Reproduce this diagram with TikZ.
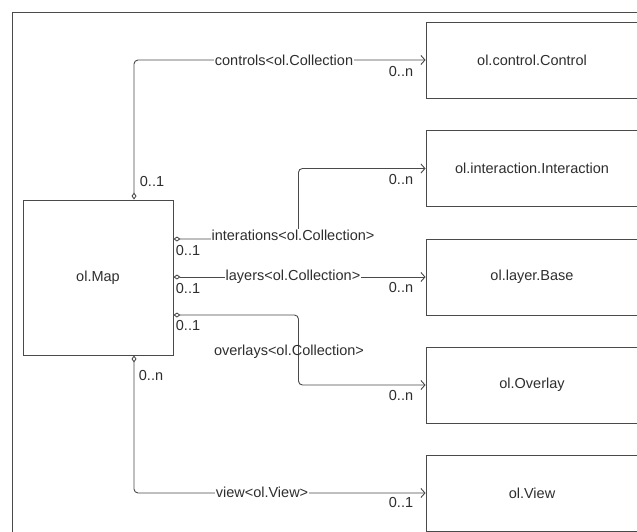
\documentclass[tikz,border=0pt]{standalone}
\usepackage{fontspec}
\setmainfont{Liberation Sans}
\usetikzlibrary{arrows.meta}
\definecolor{ln}{HTML}{4A4A4A}
\definecolor{tx}{HTML}{2E2E2E}
\tikzset{
  cls/.style={draw=ln, line width=0.9pt, minimum width=212pt, minimum height=76pt, text=tx, font=\fontsize{14.5}{17}\selectfont, inner sep=0pt},
  assoc/.style={draw=ln, line width=0.9pt, rounded corners=4pt, {Diamond[open,fill=white,length=7pt,width=5pt]}-{Straight Barb[length=4pt,width=9pt]}},
  lbl/.style={text=tx, font=\fontsize{14.5}{17}\selectfont, inner sep=1pt},
  card/.style={text=tx, font=\fontsize{14.5}{17}\selectfont, inner sep=0pt}
}
\begin{document}
\begin{tikzpicture}[x=1pt,y=-1pt]
\useasboundingbox (0,0) rectangle (637,532);
\clip (0,0) rectangle (637,532);
\draw[ln, line width=0.9pt] (12,545) -- (12,12) -- (650,12);

\node[cls, minimum width=150pt, minimum height=155pt] (map) at (98,277.5) {ol.Map};
\node[cls] (ctrl) at (532,60) {ol.control.Control};
\node[cls] (inter) at (532,168.5) {ol.interaction.Interaction};
\node[cls] (layer) at (532,277) {ol.layer.Base};
\node[cls] (ovl) at (532,385) {ol.Overlay};
\node[cls] (view) at (532,493) {ol.View};

% controls
\draw[assoc] ([xshift=36pt]map.north) |- (ctrl.west);
\node[lbl, fill=white] (lc) at (284,60) {controls<ol.Collection};
% interactions
\draw[assoc] ([yshift=38.5pt]map.east) -- ++(125,0) |- (inter.west);
\node[lbl, fill=white] (li) at (293,235) {interations<ol.Collection>};
% layers
\draw[assoc] ([yshift=0.5pt]map.east) -- (layer.west);
\node[lbl, fill=white] (ll) at (293,277) {layers<ol.Collection>};
% overlays
\draw[assoc] ([yshift=-37.5pt]map.east) -- ++(125,0) |- (ovl.west);
\node[lbl] (lo) at (289,352) {overlays<ol.Collection>};
% view
\draw[assoc] ([xshift=36pt]map.south) |- (view.west);
\node[lbl, fill=white] (lv) at (262,492) {view<ol.View>};

% cardinalities
\node[card] (c1) at (152,182) {0..1};
\node[card] (c2) at (401,72) {0..n};
\node[card] (c3) at (188,251) {0..1};
\node[card] (c4) at (401,180) {0..n};
\node[card] (c5) at (188,289) {0..1};
\node[card] (c6) at (401,288) {0..n};
\node[card] (c7) at (188,326) {0..1};
\node[card] (c8) at (401,396) {0..n};
\node[card] (c9) at (151,376) {0..n};
\node[card] (c10) at (401,503) {0..1};
\end{tikzpicture}
\end{document}
